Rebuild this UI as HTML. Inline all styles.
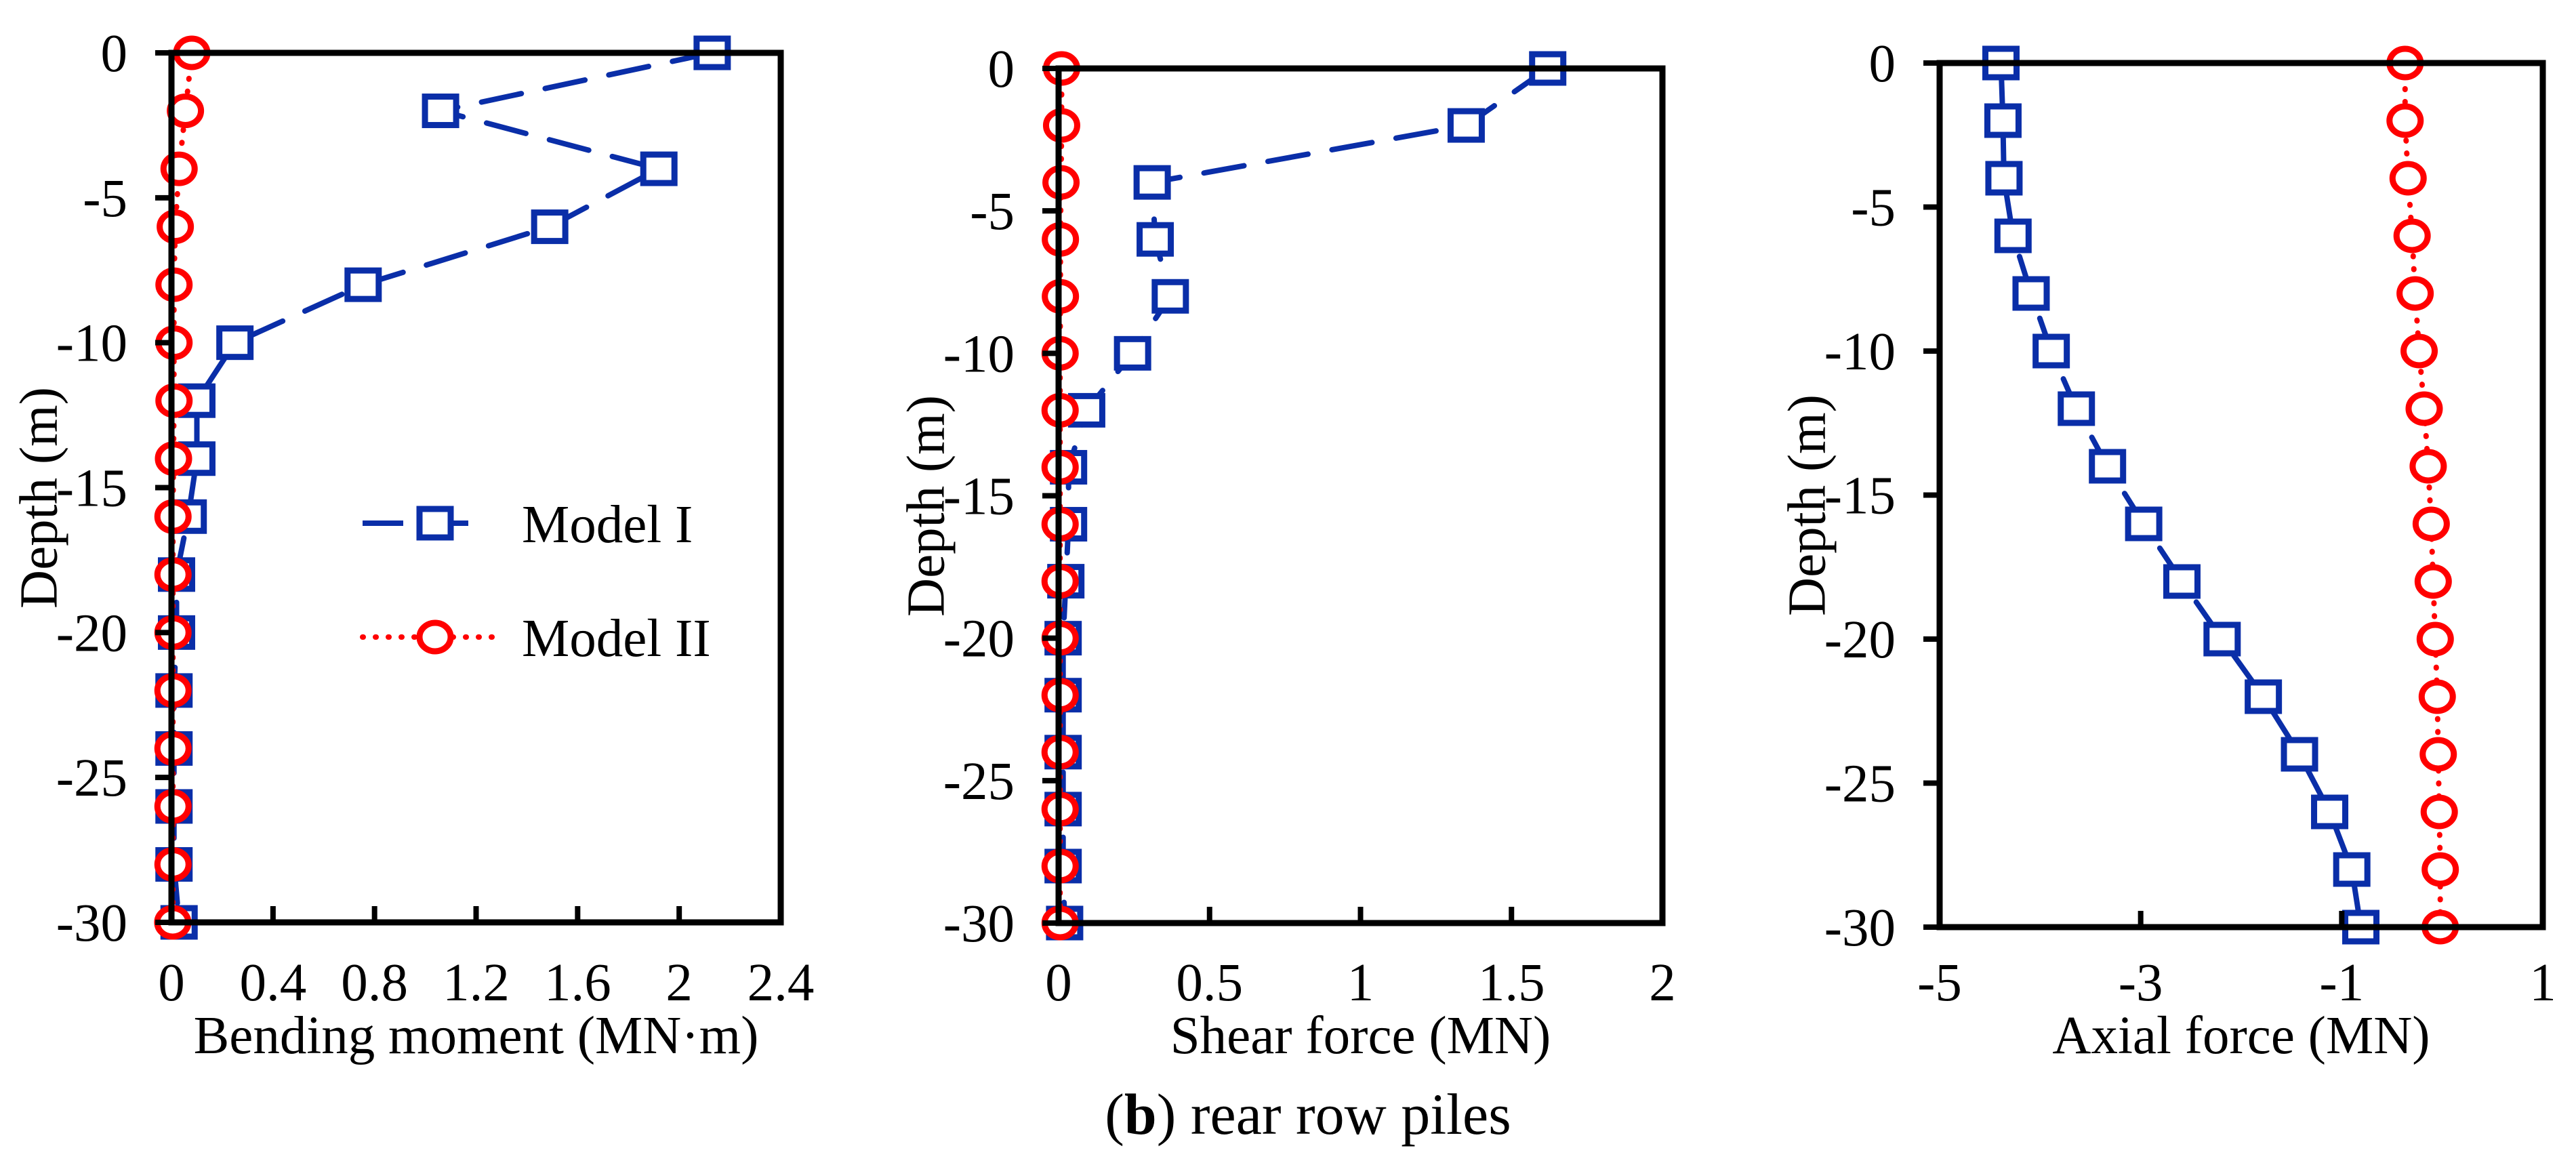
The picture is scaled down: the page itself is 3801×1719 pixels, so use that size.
<!DOCTYPE html>
<html>
<head>
<meta charset="utf-8">
<style>
html,body{margin:0;padding:0;background:#fff;}
svg{display:block;}
svg text{font-family:"Liberation Serif","Times New Roman",serif !important;fill:#000;}
</style>
</head>
<body>
<svg id="fig" width="3801" height="1719" viewBox="0 0 3801 1719" xmlns="http://www.w3.org/2000/svg" font-family="Liberation Serif, serif">
<text x="1930" y="1673" font-size="86" text-anchor="middle" font-family="Liberation Serif, serif">(<tspan font-weight="bold">b</tspan>) rear row piles</text>
</svg>
<script>
const depths = [0,-2,-4,-6,-8,-10,-12,-14,-16,-18,-20,-22,-24,-26,-28,-30];
const momentModelI = [2.13,1.06,1.92,1.49,0.755,0.25,0.10,0.10,0.066,0.02,0.02,0.01,0.01,0.01,0.01,0.03];
const momentModelII = [0.08,0.055,0.03,0.015,0.01,0.01,0.01,0.008,0.006,0.006,0.006,0.006,0.006,0.006,0.006,0.005];
const shearModelI = [1.62,1.35,0.31,0.32,0.37,0.245,0.093,0.033,0.033,0.024,0.015,0.015,0.015,0.015,0.015,0.02];
const shearModelII = [0.01,0.01,0.008,0.006,0.006,0.005,0.005,0.005,0.005,0.005,0.005,0.005,0.005,0.005,0.005,0.005];
const axialModelI = [-4.39,-4.37,-4.36,-4.27,-4.09,-3.89,-3.64,-3.33,-2.97,-2.59,-2.19,-1.78,-1.42,-1.12,-0.90,-0.81];
const axialModelII = [-0.37,-0.37,-0.34,-0.30,-0.27,-0.23,-0.18,-0.14,-0.11,-0.09,-0.07,-0.05,-0.04,-0.03,-0.02,-0.02];
const depthTicks = [0,-5,-10,-15,-20,-25,-30];
const momentTicks = [0,0.4,0.8,1.2,1.6,2,2.4];
const momentTickLabels = ["0","0.4","0.8","1.2","1.6","2","2.4"];
const shearTicks = [0,0.5,1,1.5,2];
const shearTickLabels = ["0","0.5","1","1.5","2"];
const axialTicks = [-5,-3,-1,1];
const axialTickLabels = ["-5","-3","-1","1"];

const NS = "http://www.w3.org/2000/svg";
const svg = document.getElementById('fig');
const BLUE = "#0a2ea8", RED = "#ff0000";
const FF = "Liberation Serif, serif";
const FS = 79;
function mk(tag, attrs, parent){
  const e = document.createElementNS(NS, tag);
  for (const k in attrs) e.setAttribute(k, attrs[k]);
  if (tag === 'text') e.setAttribute('font-family', FF);
  (parent||svg).appendChild(e);
  return e;
}

function drawPanel(p){
  const g = mk('g', {});
  
  
  const X = v => p.L + (v - p.xmin) / (p.xmax - p.xmin) * (p.R - p.L);
  const Y = d => p.T + (0 - d) / 30 * (p.B - p.T);

  function series(vals, color, dash, marker, nm){
    const sg = mk('g', {}, g);
    
    
    const pts = vals.map((v,i)=>X(v).toFixed(1)+','+Y(depths[i]).toFixed(1)).join(' ');
    const line = mk('polyline', {points:pts, fill:'none', stroke:color, 'stroke-width':8,
      'stroke-dasharray':dash, 'stroke-linecap':'round'}, sg);
    
    
    vals.forEach((v,i)=>{
      let m;
      if (marker==='sq') m = mk('rect', {x:X(v)-23, y:Y(depths[i])-21, width:46, height:42, fill:'#fff', stroke:color, 'stroke-width':9}, sg);
      else m = mk('ellipse', {cx:X(v), cy:Y(depths[i]), rx:23, ry:21, fill:'#fff', stroke:color, 'stroke-width':9}, sg);
      
      
    });
  }
  series(p.s1, BLUE, '60 36', 'sq', 'model-i-series');
  series(p.s2, RED, '1 18', 'ci', 'model-ii-series');

  const box = mk('rect', {x:p.L, y:p.T, width:p.R-p.L, height:p.B-p.T, fill:'none', stroke:'#000', 'stroke-width':9}, g);
  
  

  depthTicks.forEach(d=>{
    const t = mk('line', {x1:p.L-24, x2:p.L, y1:Y(d), y2:Y(d), stroke:'#000', 'stroke-width':8}, g);
    
    
    const tx = mk('text', {x:p.L-65, y:Y(d)+27, 'font-size':FS, 'text-anchor':'end'}, g);
    tx.textContent = String(d);
    
    
  });
  p.ticks.forEach((v,i)=>{
    const t = mk('line', {x1:X(v), x2:X(v), y1:p.B, y2:p.B-24, stroke:'#000', 'stroke-width':8}, g);
    
    
    const tx = mk('text', {x:X(v), y:1476, 'font-size':FS, 'text-anchor':'middle'}, g);
    tx.textContent = p.labels[i];
    
    
  });
  const xt = mk('text', {x:(p.L+p.R)/2, y:1554, 'font-size':FS, 'text-anchor':'middle'}, g);
  xt.textContent = p.xtitle;
  
  
  const cy = (p.T+p.B)/2 + 15, cx = p.L - 195;
  const yt = mk('text', {x:cx, y:cy, 'font-size':FS, 'text-anchor':'middle', 'dominant-baseline':'central', transform:'rotate(-90 '+cx+' '+cy+')'}, g);
  yt.textContent = 'Depth (m)';
  
  
}

drawPanel({name:'bending-moment-chart', L:253, R:1152, T:78, B:1361, xmin:0, xmax:2.4,
  s1:momentModelI, s2:momentModelII, ticks:momentTicks, labels:momentTickLabels, xtitle:'Bending moment (MN·m)'});
drawPanel({name:'shear-force-chart', L:1562, R:2453, T:101, B:1362, xmin:0, xmax:2,
  s1:shearModelI, s2:shearModelII, ticks:shearTicks, labels:shearTickLabels, xtitle:'Shear force (MN)'});
drawPanel({name:'axial-force-chart', L:2862, R:3752, T:93, B:1368, xmin:-5, xmax:1,
  s1:axialModelI, s2:axialModelII, ticks:axialTicks, labels:axialTickLabels, xtitle:'Axial force (MN)'});

const lg = mk('g', {});


const l1 = mk('line', {x1:535, x2:725, y1:772, y2:772, stroke:BLUE, 'stroke-width':8, 'stroke-dasharray':'60 36'}, lg);


const m1 = mk('rect', {x:619, y:751, width:46, height:42, fill:'#fff', stroke:BLUE, 'stroke-width':9}, lg);


const t1 = mk('text', {x:770, y:800, 'font-size':FS}, lg);
t1.textContent = 'Model I';


const l2 = mk('line', {x1:535, x2:740, y1:940, y2:940, stroke:RED, 'stroke-width':8, 'stroke-dasharray':'1 18', 'stroke-linecap':'round'}, lg);


const m2 = mk('ellipse', {cx:642, cy:940, rx:23, ry:21, fill:'#fff', stroke:RED, 'stroke-width':9}, lg);


const t2 = mk('text', {x:770, y:968, 'font-size':FS}, lg);
t2.textContent = 'Model II';


</script>
</body>
</html>
